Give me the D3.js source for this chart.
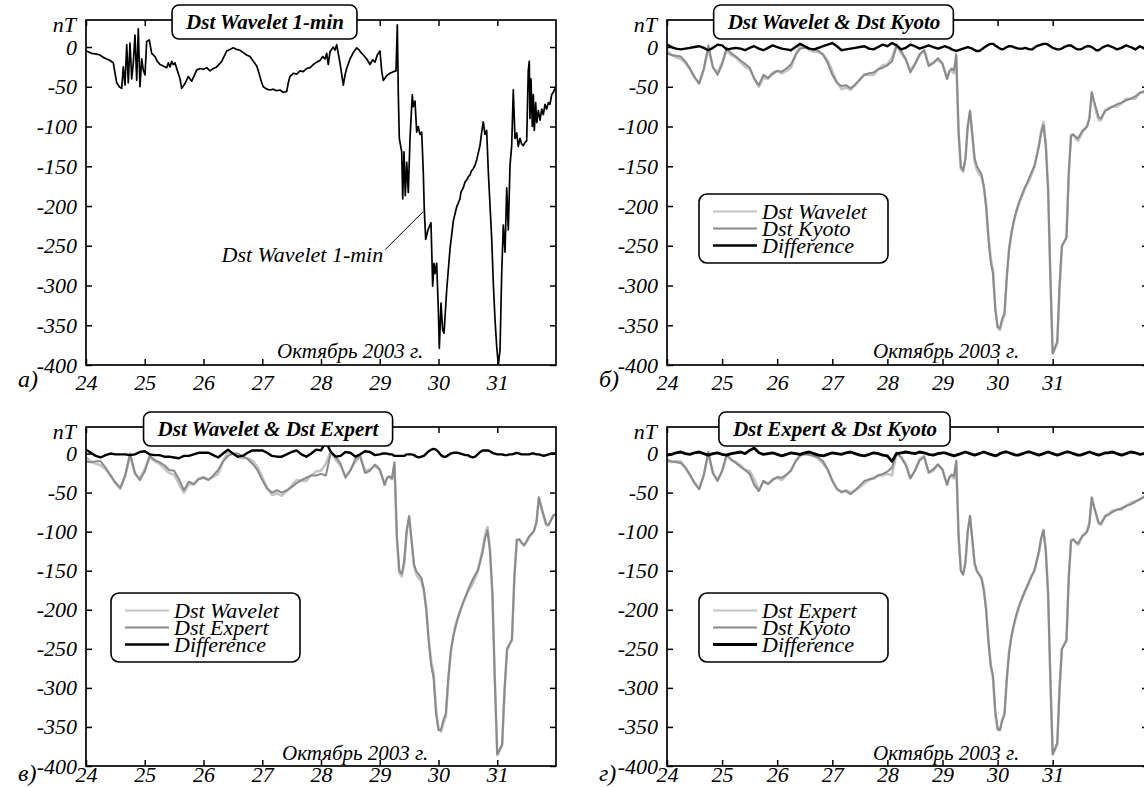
<!DOCTYPE html>
<html>
<head>
<meta charset="utf-8">
<script src="https://cdn.jsdelivr.net/npm/d3@7"></script>
<style>
  body { margin: 0; background: #fff; }
  svg text { font-family: "Liberation Serif", "Times New Roman", serif; font-style: italic; }
</style>
</head>
<body>
<svg id="chart" width="1144" height="787"></svg>
<script>
// ---- axes ----
const dayTicks = [24, 25, 26, 27, 28, 29, 30, 31];
const nTTicks = [-400, -350, -300, -250, -200, -150, -100, -50, 0];
const nTDomain = [-400, 34];

// ---- Dst Wavelet, 1-min resolution (day of October 2003, nT) ----
const minuteDays = [
  24.000, 24.039, 24.097, 24.182, 24.238, 24.294, 24.352, 24.409, 24.465, 24.494,
  24.523, 24.567, 24.608, 24.635, 24.664, 24.693, 24.720, 24.749, 24.778, 24.805,
  24.834, 24.863, 24.890, 24.919, 24.948, 24.975, 25.004, 25.033, 25.077, 25.118,
  25.174, 25.214, 25.260, 25.316, 25.374, 25.401, 25.430, 25.459, 25.486, 25.515,
  25.544, 25.600, 25.629, 25.656, 25.685, 25.741, 25.799, 25.884, 25.940, 25.997,
  26.054, 26.111, 26.167, 26.225, 26.310, 26.395, 26.451, 26.507, 26.565, 26.621,
  26.677, 26.735, 26.791, 26.848, 26.906, 26.933, 26.991, 27.018, 27.076, 27.132,
  27.188, 27.246, 27.302, 27.358, 27.416, 27.443, 27.472, 27.501, 27.529, 27.586,
  27.643, 27.699, 27.757, 27.813, 27.869, 27.927, 27.983, 28.029, 28.068, 28.097,
  28.124, 28.153, 28.209, 28.238, 28.267, 28.294, 28.323, 28.380, 28.409, 28.437,
  28.494, 28.550, 28.608, 28.652, 28.693, 28.720, 28.778, 28.834, 28.880, 28.919,
  28.958, 29.004, 29.033, 29.060, 29.118, 29.174, 29.231, 29.277, 29.299, 29.316,
  29.333, 29.357, 29.374, 29.391, 29.413, 29.435, 29.459, 29.486, 29.515, 29.554,
  29.571, 29.600, 29.629, 29.656, 29.685, 29.714, 29.741, 29.758, 29.782, 29.821,
  29.872, 29.901, 29.923, 29.940, 29.969, 29.997, 30.014, 30.043, 30.071, 30.094,
  30.140, 30.196, 30.252, 30.310, 30.366, 30.380, 30.422, 30.450, 30.480, 30.510,
  30.536, 30.560, 30.592, 30.620, 30.650, 30.706, 30.735, 30.762, 30.791, 30.820,
  30.848, 30.906, 30.933, 30.962, 30.991, 31.018, 31.047, 31.076, 31.103, 31.132,
  31.161, 31.188, 31.217, 31.246, 31.273, 31.302, 31.331, 31.358, 31.387, 31.416,
  31.443, 31.472, 31.501, 31.528, 31.545, 31.557, 31.574, 31.597, 31.614, 31.631,
  31.654, 31.672, 31.699, 31.728, 31.757, 31.784, 31.813, 31.841, 31.869, 31.898,
  31.927, 31.954, 31.983
];
const minuteDst = [
  -5, -6, -8, -9, -10, -13, -15, -17, -20, -33,
  -45, -50, -52, -25, -48, 3, -45, 5, -40, -20,
  15, -42, 23, -50, -15, -29, -35, 7, 9, -8,
  -12, -18, -22, -24, -26, -20, -25, -18, -22, -20,
  -27, -40, -52, -49, -46, -37, -43, -29, -27, -28,
  -26, -30, -27, -25, -18, -5, -3, -1, -3, -4,
  -7, -10, -12, -18, -24, -30, -45, -50, -53, -54,
  -53, -55, -54, -57, -56, -45, -37, -35, -33, -34,
  -30, -31, -27, -26, -22, -19, -17, -12, -15, -8,
  -22, -6, 0, -4, 3, -8, -20, -48, -35, -27,
  -15, -7, -1, -4, -8, -10, -15, -22, -16, -19,
  -10, -5, -30, -42, -36, -33, -31, -30, 28, -60,
  -115, -125, -132, -191, -132, -187, -145, -183, -115, -60,
  -75, -68, -107, -100, -110, -107, -157, -204, -242, -230,
  -221, -301, -272, -285, -272, -330, -379, -322, -356, -360,
  -305, -254, -219, -201, -191, -183, -177, -170, -167, -163,
  -161, -156, -153, -149, -142, -124, -107, -94, -110, -105,
  -157, -242, -297, -343, -377, -400, -381, -284, -224, -258,
  -177, -230, -149, -124, -54, -115, -108, -125, -115, -122,
  -124, -120, -118, -30, -18, -90, -40, -100, -60, -105,
  -70, -95, -80, -92, -78, -85, -72, -78, -70, -72,
  -60, -57, -52
];

// ---- hourly indices (hours from 24 Oct 00 UT) ----
const hourMarks = [
  0, 2, 4, 6, 8, 10, 12, 14, 16, 18, 20, 22, 24, 26, 28, 30, 32, 34, 36, 38,
  40, 42, 44, 46, 48, 50, 52, 54, 56, 58, 60, 62, 64, 66, 68, 70, 72, 74, 76, 78,
  80, 82, 84, 86, 88, 90, 92, 94, 96, 98, 100, 102, 104, 106, 108, 110, 112, 114, 116, 118,
  120, 121, 122, 123, 124, 125, 126, 127, 128, 129, 130, 131, 132, 133, 134, 135, 136, 137, 138, 139,
  140, 141, 142, 143, 144, 145, 146, 147, 148, 149, 150, 151, 152, 153, 154, 155, 156, 157, 158, 159,
  160, 161, 162, 163, 164, 165, 166, 167, 168, 169, 170, 171, 172, 173, 174, 175, 176, 177, 178, 179,
  180, 181, 182, 183, 184, 185, 186, 187, 188, 189, 190, 191, 192,
  194, 196, 198, 200, 202, 204, 206, 208, 210
];
const dstKyoto = [
  -8, -10, -11, -12, -18, -27, -38, -46, -28, 2, -25, -35, -22, -1, -8, -12, -17, -21, -26, -40,
  -48, -35, -39, -34, -30, -31, -27, -22, -10, -2, -1, -2, -3, -5, -10, -20, -35, -45, -49, -48,
  -52, -47, -41, -35, -33, -32, -28, -26, -23, -18, 1, -5, -15, -32, -22, -9, -4, -24, -20, -14,
  -21, -31, -40, -30, -27, -29, -9, -105, -150, -155, -140, -100, -80, -110, -140, -150, -155, -160, -175, -200,
  -240, -270, -285, -330, -352, -354, -342, -335, -290, -255, -235, -220, -208, -198, -190, -183, -176, -170, -163, -156,
  -150, -138, -125, -108, -98, -125, -180, -290, -385, -378, -370, -300, -250, -245, -240, -160, -112, -110, -113, -115,
  -110, -105, -103, -100, -90, -57, -68, -78, -88, -90, -85, -80, -79,
  -75, -72, -70, -67, -65, -62, -58, -55, -53
];
// Dst Wavelet minus Dst Kyoto
const diffWaveletKyoto = [
  3, 0, -2, -3, -2, -1, 0, 1, -1, -4, -1, 3, 2, -3, -2, -1, -2, -4, -1, 1,
  -2, -4, -1, 2, 0, -2, -3, -4, 0, 4, 1, -2, -3, -1, 1, 3, 5, 1, -4, -3,
  -2, -1, 0, 1, -2, -3, 0, 3, 1, 5, 2, -3, -1, 3, 1, -2, 0, 2, 0, -2,
  0, 1, 0, -1, -3, -4, -5, -4, -3, -2, -1, 0, -1, -2, -4, -5, -5, -3, -1, 1,
  3, 4, 4, 2, 0, -2, -3, -2, 0, 1, 1, 0, -1, -2, -2, -2, -1, -2, -3, -3,
  -1, 1, 2, 3, 4, 4, 3, 1, -1, -2, -3, -3, -2, 0, 1, 2, 2, 0, -2, -3,
  -3, -2, 0, 1, 1, 0, -2, -4, -4, -2, 0, 1, 2,
  0, -3, -1, 2, 0, -3, 1, -2, -3
];
// Dst Expert minus Dst Kyoto
const diffExpertKyoto = [
  -2, -1, 1, 2, 0, -1, 1, 2, 0, -2, 0, 1, -1, -2, 0, 1, 2, 0, 4, 7,
  1, -1, 0, 1, -1, -3, -1, 1, 0, -1, 1, 2, 0, -2, -3, -1, 1, 0, -1, 1,
  2, 0, -2, -3, -1, 1, 0, -2, -3, -10, 0, 1, 2, 1, 0, 2, 1, -1, -2, 0,
  1, 1, 0, -1, -2, -3, -2, -1, 0, 1, 2, 1, 0, -1, -2, -1, 0, 1, 2, 1,
  0, -1, -2, -3, -2, 0, 1, 2, 2, 1, 0, -1, -2, -2, -1, 0, 1, 2, 2, 1,
  0, -1, -2, -1, 0, 1, 2, 1, 0, -1, -2, -1, 0, 1, 2, 2, 1, 0, -1, -2,
  -2, -1, 0, 1, 2, 1, 0, -1, -2, -1, 0, 1, 1,
  2, 0, -2, 0, 2, 1, -1, 0, 1
];

// ---- styles ----
const LIGHT = "#c4c4c4", MID = "#8a8a8a", DARK = "#000";

const toDay = h => 24 + h / 24;
const hourlyDays = hourMarks.map(toDay);
const dstWavelet = dstKyoto.map((v, i) => v + diffWaveletKyoto[i]);
const dstExpert = dstKyoto.map((v, i) => v + diffExpertKyoto[i]);
const diffWaveletExpert = diffWaveletKyoto.map((v, i) => v - diffExpertKyoto[i]);
const pairs = (xs, ys) => xs.map((d, i) => [d, ys[i]]);

const panels = [
  { key: "a", left: 86, top: 20, right: 556, bottom: 365, days: [24, 32], letter: "а)",
    title: "Dst Wavelet 1-min", titleX: 265, labelPad: 9, letterY: 387,
    note: [277, 358],
    series: [{ pts: pairs(minuteDays, minuteDst), color: DARK, width: 1.7 }] },
  { key: "b", left: 667, top: 20, right: 1148, bottom: 365, days: [24, 32.73], letter: "б)",
    title: "Dst Wavelet & Dst Kyoto", titleX: 834, labelPad: 9, letterY: 387,
    note: [873, 358],
    legend: { x: 699, y: 194, rows: [["Dst Wavelet", LIGHT, 2.2], ["Dst Kyoto", MID, 2], ["Difference", DARK, 2.4]] },
    series: [
      { pts: pairs(hourlyDays, dstWavelet), color: LIGHT, width: 2.6 },
      { pts: pairs(hourlyDays, dstKyoto), color: MID, width: 2 },
      { pts: pairs(hourlyDays, diffWaveletKyoto), color: DARK, width: 2.4 }] },
  { key: "c", left: 86, top: 427, right: 556, bottom: 766, days: [24, 32], letter: "в)",
    title: "Dst Wavelet & Dst Expert", titleX: 268, labelPad: 0, letterY: 781,
    note: [282, 760],
    legend: { x: 111, y: 593, rows: [["Dst Wavelet", LIGHT, 2.2], ["Dst Expert", MID, 2], ["Difference", DARK, 2.4]] },
    series: [
      { pts: pairs(hourlyDays, dstWavelet), color: LIGHT, width: 2.6 },
      { pts: pairs(hourlyDays, dstExpert), color: MID, width: 2 },
      { pts: pairs(hourlyDays, diffWaveletExpert), color: DARK, width: 2.4 }] },
  { key: "d", left: 667, top: 427, right: 1148, bottom: 766, days: [24, 32.73], letter: "г)",
    title: "Dst Expert & Dst Kyoto", titleX: 835, labelPad: 0, letterY: 781,
    note: [873, 760],
    legend: { x: 699, y: 593, rows: [["Dst Expert", LIGHT, 2.2], ["Dst Kyoto", MID, 2], ["Difference", DARK, 2.8]] },
    series: [
      { pts: pairs(hourlyDays, dstExpert), color: LIGHT, width: 2.6 },
      { pts: pairs(hourlyDays, dstKyoto), color: MID, width: 2 },
      { pts: pairs(hourlyDays, diffExpertKyoto), color: DARK, width: 2.8 }] }
];

const svg = d3.select("#chart");
svg.append("rect").attr("width", 1144).attr("height", 787).attr("fill", "#fff");

function drawPanel(p) {
  const x = d3.scaleLinear().domain(p.days).range([p.left, p.right]);
  const y = d3.scaleLinear().domain(nTDomain).range([p.bottom, p.top]);
  const g = svg.append("g");

  const clipId = "clip-" + p.key;
  g.append("clipPath").attr("id", clipId).append("rect")
    .attr("x", p.left).attr("y", p.top)
    .attr("width", p.right - p.left).attr("height", p.bottom - p.top);

  const plot = g.append("g").attr("clip-path", `url(#${clipId})`);
  const line = d3.line().x(d => x(d[0])).y(d => y(d[1]));
  p.series.forEach(s => {
    plot.append("path").datum(s.pts)
      .attr("fill", "none").attr("stroke", s.color).attr("stroke-width", s.width)
      .attr("stroke-linejoin", "round").attr("d", line);
  });

  // axes with inward ticks on all four sides
  const plain = d => String(d);
  const styleAxis = sel => {
    sel.select(".domain").remove();
    sel.selectAll(".tick line").attr("stroke", "#000").attr("stroke-width", 1.5);
    sel.attr("font-family", null).attr("font-size", null);
    sel.selectAll("text").attr("fill", "#000").style("font-size", "22px");
  };
  g.append("g").attr("transform", `translate(0,${p.bottom})`)
    .call(d3.axisBottom(x).tickValues(dayTicks).tickSizeInner(-6).tickSizeOuter(0).tickPadding(p.labelPad).tickFormat(plain))
    .call(styleAxis);
  g.append("g").attr("transform", `translate(0,${p.top})`)
    .call(d3.axisTop(x).tickValues(dayTicks).tickSizeInner(-6).tickSizeOuter(0).tickFormat(""))
    .call(styleAxis);
  g.append("g").attr("transform", `translate(${p.left},0)`)
    .call(d3.axisLeft(y).tickValues(nTTicks).tickSizeInner(-6).tickSizeOuter(0).tickPadding(9).tickFormat(plain))
    .call(styleAxis);
  g.append("g").attr("transform", `translate(${p.right},0)`)
    .call(d3.axisRight(y).tickValues(nTTicks).tickSizeInner(-6).tickSizeOuter(0).tickFormat(""))
    .call(styleAxis);

  g.append("rect").attr("x", p.left).attr("y", p.top)
    .attr("width", p.right - p.left).attr("height", p.bottom - p.top)
    .attr("fill", "none").attr("stroke", "#000").attr("stroke-width", 1.7);

  // unit label
  g.append("text").attr("x", p.left - 10).attr("y", p.top + 12)
    .attr("text-anchor", "end").style("font-size", "22px").text("nT");

  // panel letter
  g.append("text").attr("x", p.left - 68).attr("y", p.letterY)
    .style("font-size", "24px").text(p.letter);

  // date caption
  g.append("text").attr("x", p.note[0]).attr("y", p.note[1])
    .style("font-size", "21px").text("Октябрь 2003 г.");

  // title box straddling the top border
  const tg = g.append("g");
  const tt = tg.append("text").attr("x", p.titleX).attr("y", p.top + 9)
    .attr("text-anchor", "middle").style("font-size", "21px").style("font-weight", "bold")
    .text(p.title);
  const bb = tt.node().getBBox();
  tg.insert("rect", "text")
    .attr("x", bb.x - 13).attr("y", p.top - 15)
    .attr("width", bb.width + 26).attr("height", 34)
    .attr("rx", 7).attr("fill", "#fff").attr("stroke", "#000").attr("stroke-width", 1.6);

  // legend
  if (p.legend) {
    const L = p.legend;
    const lg = g.append("g");
    lg.append("rect").attr("x", L.x).attr("y", L.y).attr("width", 189).attr("height", 69)
      .attr("rx", 8).attr("fill", "#fff").attr("stroke", "#000").attr("stroke-width", 1.6);
    L.rows.forEach((r, i) => {
      const cy = L.y + 17.5 + i * 17;
      lg.append("line").attr("x1", L.x + 14).attr("x2", L.x + 58).attr("y1", cy).attr("y2", cy)
        .attr("stroke", r[1]).attr("stroke-width", r[2]);
      lg.append("text").attr("x", L.x + 63).attr("y", cy + 7).style("font-size", "22px").text(r[0]);
    });
  }
  return { x, y, g };
}

const drawn = panels.map(drawPanel);

// leader label on the 1-min curve
const annotDay = 29.74, annotValue = -207;
{
  const { x, y, g } = drawn[0];
  const ax = x(annotDay), ay = y(annotValue);
  g.append("line").attr("x1", ax).attr("y1", ay).attr("x2", ax - 38).attr("y2", ay + 38)
    .attr("stroke", "#000").attr("stroke-width", 1);
  g.append("text").attr("x", ax - 40).attr("y", ay + 50).attr("text-anchor", "end")
    .style("font-size", "22px").text("Dst Wavelet 1-min");
}
</script>
</body>
</html>
